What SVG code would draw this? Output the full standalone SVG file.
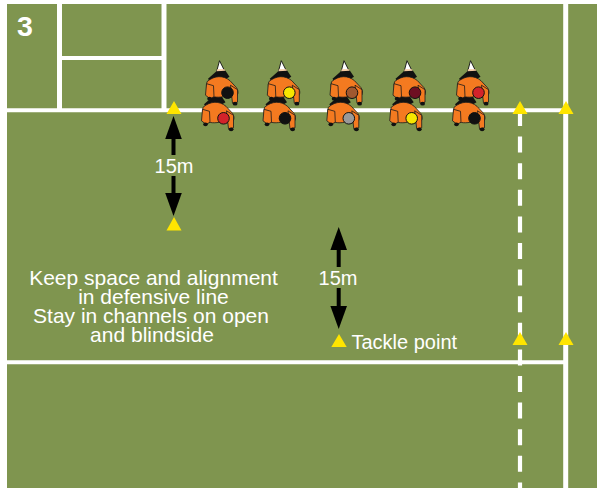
<svg xmlns="http://www.w3.org/2000/svg" xmlns:xlink="http://www.w3.org/1999/xlink" width="597" height="488" viewBox="0 0 597 488">
  <style>
    .pitch { fill: #7f954f; }
    .line { stroke: #ffffff; fill: none; }
    .cone { fill: #ffe500; }
    .label { fill: #ffffff; font-family: "Liberation Sans", Arial, sans-serif; font-size: 20px; }
    .note { fill: #ffffff; font-family: "Liberation Sans", Arial, sans-serif; font-size: 21px; text-anchor: middle; }
    .num { fill: #ffffff; font-family: "Liberation Sans", Arial, sans-serif; font-size: 28.5px; font-weight: bold; }
    .dist { stroke: #000000; stroke-width: 4; fill: none; marker-end: url(#head); }
    .shirt { fill: #f47a20; stroke: #1a1a1a; stroke-width: 0.8; stroke-linejoin: round; }
    .dark { fill: #111111; }
    .helmet { stroke: #111111; stroke-width: 1; }
  </style>
  <defs>
    <marker id="head" markerUnits="userSpaceOnUse" markerWidth="23" markerHeight="17" refX="11" refY="8.3" orient="auto">
      <path d="M0,0 L23,8.3 L0,16.6 Z" fill="#000000"/>
    </marker>
    <!-- defender seen from above, origin at the centre of the head -->
    <g id="player">
      <path d="M-8,-32 L-11.2,-20 L-2,-20 Z" fill="#ffffff" stroke="#111" stroke-width="0.9" stroke-linejoin="round"/>
      <path d="M-10.3,-23.5 L-11.2,-20 L-2,-20 L-2.9,-23.5 Z" fill="#f3c9a0"/>
      <path class="dark" d="M-19.5,-14 L-11,-21.5 L-2,-22 L2,-16 L-6,-11 L-15.5,-8 Z"/>
      <path class="shirt" d="M-20.5,-11 C-13,-17.5 -4,-17.5 2.5,-12 L9,-5 C11.5,-1 11,3 6.5,5 L-2,3.5 C-8,5 -14.5,5 -18.5,2 C-21,-2 -21.5,-7 -20.5,-11 Z"/>
      <path class="shirt" d="M-21,-9 L-14,-7 L-13.5,4 L-17.5,6 L-22,2.5 Z"/>
      <ellipse class="dark" cx="-18" cy="6" rx="2.3" ry="1.9"/>
      <path class="shirt" d="M3,-7.5 L10,-3 L10,9.5 L5,10.5 Z"/>
      <ellipse class="dark" cx="7.6" cy="11" rx="2.4" ry="1.9"/>
    </g>
  </defs>

  <!-- pitch -->
  <rect class="pitch" x="7" y="4" width="590" height="484"/>

  <!-- pitch markings -->
  <g id="markings">
    <line class="line" x1="59.5" y1="4" x2="59.5" y2="110" stroke-width="5"/>
    <line class="line" x1="164" y1="4" x2="164" y2="110" stroke-width="5"/>
    <line class="line" x1="62" y1="58" x2="162" y2="58" stroke-width="4"/>
    <line class="line" x1="7" y1="110.3" x2="568" y2="110.3" stroke-width="4"/>
    <line class="line" x1="7" y1="362.3" x2="568" y2="362.3" stroke-width="4"/>
    <line class="line" x1="565.7" y1="4" x2="565.7" y2="488" stroke-width="5"/>
    <line class="line" x1="520" y1="110" x2="520" y2="488" stroke-width="4.2" stroke-dasharray="16 10.6"/>
  </g>

  <text class="num" x="17" y="36">3</text>

  <!-- defensive line: back row first, front row drawn over it -->
  <g id="p1b"><use xlink:href="#player" x="223.5" y="118.3"/><circle class="helmet" cx="223.5" cy="118.3" r="5.8" fill="#d2232a"/></g>
  <g id="p1a"><use xlink:href="#player" x="227.5" y="92.7"/><circle class="helmet" cx="227.5" cy="92.7" r="5.8" fill="#111111"/></g>
  <g id="p2b"><use xlink:href="#player" x="285" y="118.3"/><circle class="helmet" cx="285" cy="118.3" r="5.8" fill="#111111"/></g>
  <g id="p2a"><use xlink:href="#player" x="289.3" y="92.7"/><circle class="helmet" cx="289.3" cy="92.7" r="5.8" fill="#f7e600"/></g>
  <g id="p3b"><use xlink:href="#player" x="348.8" y="118.3"/><circle class="helmet" cx="348.8" cy="118.3" r="5.8" fill="#999999"/></g>
  <g id="p3a"><use xlink:href="#player" x="352" y="92.7"/><circle class="helmet" cx="352" cy="92.7" r="5.8" fill="#a0582f"/></g>
  <g id="p4b"><use xlink:href="#player" x="411.7" y="118.3"/><circle class="helmet" cx="411.7" cy="118.3" r="5.8" fill="#f7e600"/></g>
  <g id="p4a"><use xlink:href="#player" x="415" y="92.7"/><circle class="helmet" cx="415" cy="92.7" r="5.8" fill="#6e0f22"/></g>
  <g id="p5b"><use xlink:href="#player" x="474.5" y="118.3"/><circle class="helmet" cx="474.5" cy="118.3" r="5.8" fill="#111111"/></g>
  <g id="p5a"><use xlink:href="#player" x="478.5" y="92.7"/><circle class="helmet" cx="478.5" cy="92.7" r="5.8" fill="#d2232a"/></g>

  <!-- markers -->
  <g id="markers">
    <polygon class="cone" points="174,101 166.5,114 181.5,114"/>
    <polygon class="cone" points="520,101 512.5,114 527.5,114"/>
    <polygon class="cone" points="566,101 558.5,114 573.5,114"/>
    <polygon class="cone" points="174,217 166.5,230.5 181.5,230.5"/>
    <polygon class="cone" points="339,334 331.3,347 346.7,347"/>
    <polygon class="cone" points="520,332 512.5,345 527.5,345"/>
    <polygon class="cone" points="566,332 558.5,345 573.5,345"/>
  </g>

  <!-- distance arrows -->
  <g id="connectors">
    <line class="dist" x1="173.5" y1="155" x2="173.5" y2="128"/>
    <line class="dist" x1="173.5" y1="176" x2="173.5" y2="204"/>
    <line class="dist" x1="338.7" y1="267" x2="338.7" y2="239"/>
    <line class="dist" x1="338.7" y1="288" x2="338.7" y2="317"/>
  </g>

  <g id="labels">
    <text class="label" x="174" y="172.5" text-anchor="middle">15m</text>
    <text class="label" x="338" y="284.5" text-anchor="middle">15m</text>
    <text class="label" x="351.5" y="349.3">Tackle point</text>
    <text class="note" x="153.5" y="285">Keep space and alignment</text>
    <text class="note" x="153.5" y="304">in defensive line</text>
    <text class="note" x="151" y="322.8">Stay in channels on open</text>
    <text class="note" x="152" y="341.5">and blindside</text>
  </g>
</svg>
